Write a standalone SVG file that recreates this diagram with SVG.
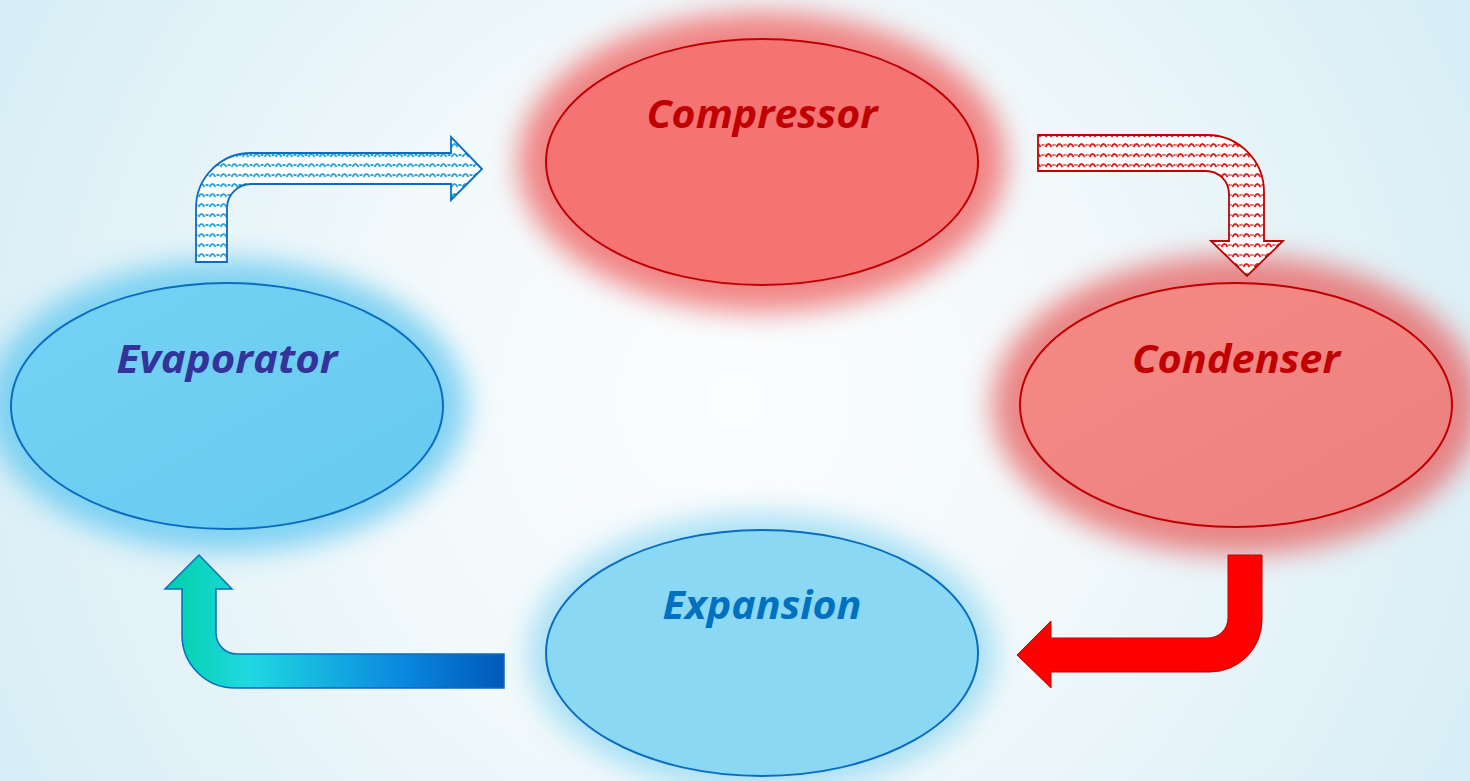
<svg xmlns="http://www.w3.org/2000/svg" width="1470" height="781" viewBox="0 0 1470 781">
<defs>
<radialGradient id="bg" cx="735" cy="400" r="800" gradientUnits="userSpaceOnUse">
<stop offset="0" stop-color="#fbfdfe"/>
<stop offset="0.45" stop-color="#f2f9fb"/>
<stop offset="1" stop-color="#d8eef6"/>
</radialGradient>
<filter id="glow" x="-30%" y="-30%" width="160%" height="160%">
<feGaussianBlur stdDeviation="14"/>
</filter>
<linearGradient id="condFill" x1="0" y1="0" x2="1" y2="1">
<stop offset="0" stop-color="#f58a84"/>
<stop offset="1" stop-color="#ec8080"/>
</linearGradient>
<linearGradient id="evapFill" x1="0" y1="0" x2="1" y2="1">
<stop offset="0" stop-color="#74d2f4"/>
<stop offset="1" stop-color="#68caf0"/>
</linearGradient>
<linearGradient id="blueArrow" x1="165" y1="0" x2="504" y2="0" gradientUnits="userSpaceOnUse">
<stop offset="0" stop-color="#00d0a8"/>
<stop offset="0.25" stop-color="#20d8e0"/>
<stop offset="0.7" stop-color="#0a88e0"/>
<stop offset="1" stop-color="#0058b8"/>
</linearGradient>
<pattern id="waveBlue" width="11" height="10" patternUnits="userSpaceOnUse">
<rect width="11" height="10" fill="#ffffff"/>
<path d="M0.5,7 Q3.5,1 6.5,7" fill="none" stroke="#22a8e6" stroke-width="2"/>
<path d="M7.5,5 L10.5,5" stroke="#22a8e6" stroke-width="2"/>
</pattern>
<pattern id="waveRed" width="11" height="10" patternUnits="userSpaceOnUse">
<rect width="11" height="10" fill="#ffffff"/>
<path d="M0.5,7 Q3.5,1 6.5,7" fill="none" stroke="#e81818" stroke-width="2"/>
<path d="M7.5,5 L10.5,5" stroke="#e81818" stroke-width="2" stroke-dasharray="1.2 0.8"/>
</pattern>
<style>
.lbl{font-family:"Open Sans","Liberation Sans",sans-serif;font-weight:bold;font-style:italic;font-size:40px;text-anchor:middle}
.red{fill:#c00000}
.ell-red{stroke:#c00000;stroke-width:2}
.ell-blue{stroke:#0a6cc0;stroke-width:2}
</style>
</defs>
<rect width="1470" height="781" fill="url(#bg)"/>

<g id="compressor">
<ellipse cx="762" cy="162" rx="244" ry="150" fill="#f07070" opacity="0.85" filter="url(#glow)"/>
<ellipse class="ell-red" cx="762" cy="162" rx="216" ry="123" fill="#f47474"/>
<text class="lbl red" x="762" y="128" textLength="231" lengthAdjust="spacingAndGlyphs">Compressor</text>
</g>

<g id="condenser">
<ellipse cx="1236" cy="405" rx="244" ry="150" fill="#e86868" opacity="0.8" filter="url(#glow)"/>
<ellipse class="ell-red" cx="1236" cy="405" rx="216" ry="122" fill="url(#condFill)"/>
<text class="lbl red" x="1236" y="373" textLength="208" lengthAdjust="spacingAndGlyphs">Condenser</text>
</g>

<g id="evaporator">
<ellipse cx="227" cy="406" rx="240" ry="146" fill="#5cc6f0" opacity="0.75" filter="url(#glow)"/>
<ellipse class="ell-blue" cx="227" cy="406" rx="216" ry="123" fill="url(#evapFill)"/>
<text class="lbl" x="227" y="373" fill="#333399" textLength="221" lengthAdjust="spacingAndGlyphs">Evaporator</text>
</g>

<g id="expansion">
<ellipse cx="762" cy="653" rx="234" ry="140" fill="#8ad6f2" opacity="0.7" filter="url(#glow)"/>
<ellipse class="ell-blue" cx="762" cy="653" rx="216" ry="123" fill="#8bd8f4"/>
<text class="lbl" x="762" y="619" fill="#0070c0" textLength="199" lengthAdjust="spacingAndGlyphs">Expansion</text>
</g>

<g id="connectors">
<path d="M196,262 L196,208 A55,55 0 0 1 251,153 L451,153 L451,137 L482,169 L451,200 L451,184 L251,184 A24,24 0 0 0 227,208 L227,262 Z" fill="url(#waveBlue)" stroke="#0a6cc0" stroke-width="1.8" stroke-linejoin="miter"/>
<path d="M1038,135 L1207,135 A57,57 0 0 1 1264,192 L1264,241 L1283,241 L1247,276 L1211,241 L1229,241 L1229,194 A23,23 0 0 0 1206,171 L1038,171 Z" fill="url(#waveRed)" stroke="#c00000" stroke-width="1.8"/>
<path d="M1228,555 L1262,555 L1262,620 A52,52 0 0 1 1210,672 L1051,672 L1051,688 L1017,655 L1051,621 L1051,638 L1208,638 A20,20 0 0 0 1228,618 Z" fill="#ff0000" stroke="#c00000" stroke-width="1"/>
<path d="M504,654 L237,654 A21,21 0 0 1 216,633 L216,589 L232,589 L199,555 L165,589 L182,589 L182,635 A53,53 0 0 0 235,688 L504,688 Z" fill="url(#blueArrow)" stroke="#0a6cc0" stroke-width="1.5"/>
</g>
</svg>
